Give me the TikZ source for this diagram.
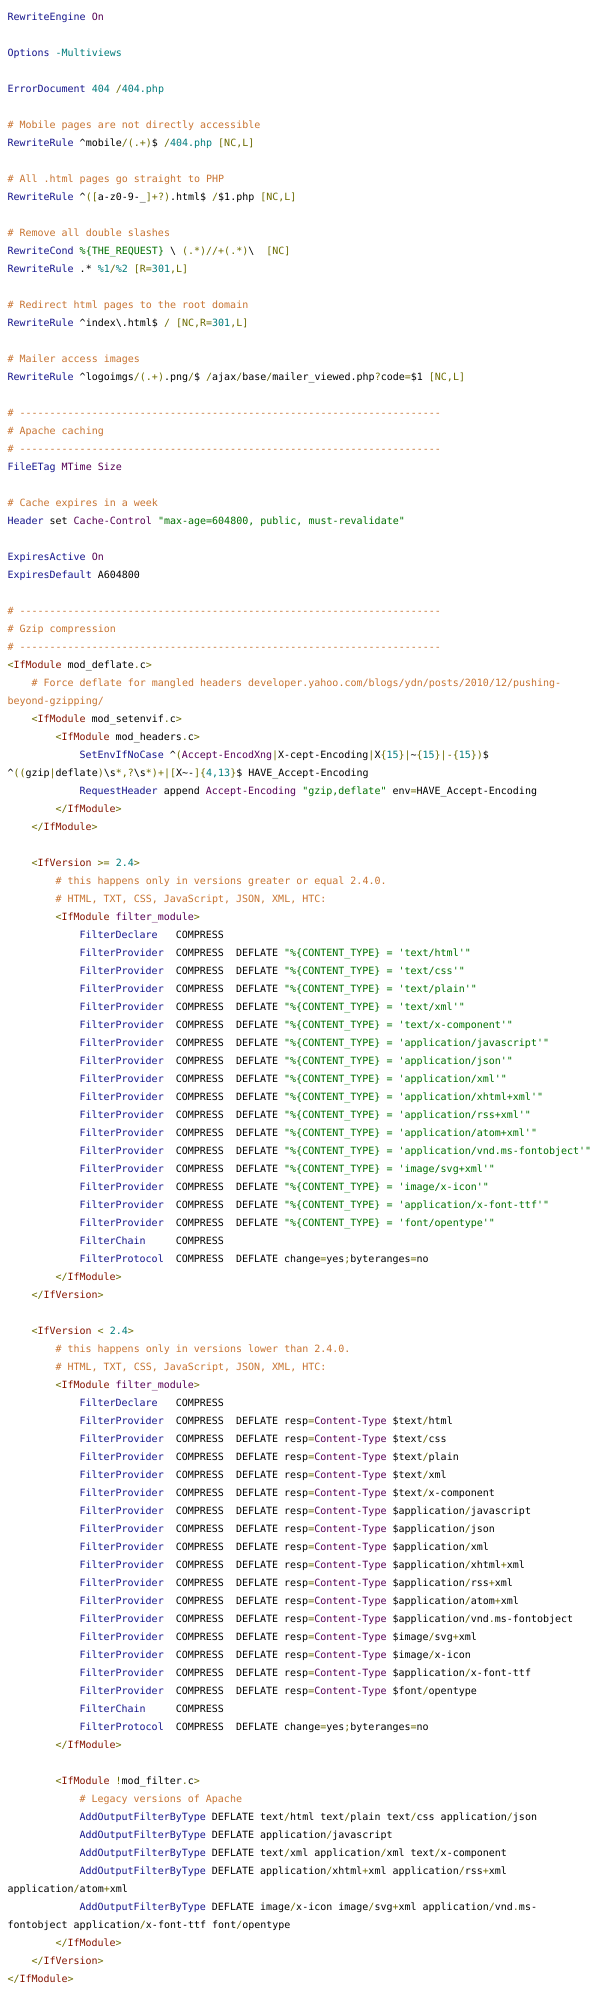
\documentclass[tikz,border=0pt]{standalone}
\usepackage{fontspec}
\setmonofont{DejaVu Sans Mono}
\definecolor{ckw}{HTML}{15158C}
\definecolor{cval}{HTML}{550055}
\definecolor{cnum}{HTML}{007C7C}
\definecolor{ccmt}{HTML}{C87432}
\definecolor{cop}{HTML}{6B6B00}
\definecolor{cstr}{HTML}{007000}
\definecolor{ctag}{HTML}{851500}
\newcommand\hK[1]{\textcolor{ckw}{#1}}
\newcommand\hV[1]{\textcolor{cval}{#1}}
\newcommand\hN[1]{\textcolor{cnum}{#1}}
\newcommand\hC[1]{\textcolor{ccmt}{#1}}
\newcommand\hO[1]{\textcolor{cop}{#1}}
\newcommand\hS[1]{\textcolor{cstr}{#1}}
\newcommand\hT[1]{\textcolor{ctag}{#1}}
\newcommand\dashrule{\hC{\# ----------------------------------------------------------------------}}
\newcommand\codeln[3]{\node[code] (l#1) at ({7.5+6*#2},{-20.5-18*#1}) {#3};}
\newcommand\fprov[1]{\hK{FilterProvider}\ \ COMPRESS\ \ DEFLATE \hS{"\%\{CONTENT\_TYPE\} = '#1'"}}
\newcommand\fresp[2]{\hK{FilterProvider}\ \ COMPRESS\ \ DEFLATE resp\hO{=}\hV{Content-Type} \$#1\hO{/}#2}
\tikzset{code/.style={anchor=base west, inner sep=0pt, outer sep=0pt, text=black,
  font=\ttfamily\fontsize{10}{12}\selectfont\frenchspacing}}
\begin{document}
\begin{tikzpicture}[x=1pt,y=1pt]
\useasboundingbox[fill=white] (0,0) rectangle (600,-1996);
\codeln{0}{0}{\hK{RewriteEngine} \hV{On}}
\codeln{2}{0}{\hK{Options} \hN{-Multiviews}}
\codeln{4}{0}{\hK{ErrorDocument} \hN{404} \hO{/}\hN{404.php}}
\codeln{6}{0}{\hC{\# Mobile pages are not directly accessible}}
\codeln{7}{0}{\hK{RewriteRule} \textasciicircum mobile\hO{/(.+)}\$ \hO{/}\hN{404.php} \hO{[NC,L]}}
\codeln{9}{0}{\hC{\# All .html pages go straight to PHP}}
\codeln{10}{0}{\hK{RewriteRule} \textasciicircum\hO{([}a-z0-9-\_\hO{]+?)}.html\$ \hO{/}\$1.php \hO{[NC,L]}}
\codeln{12}{0}{\hC{\# Remove all double slashes}}
\codeln{13}{0}{\hK{RewriteCond} \hS{\%\{THE\_REQUEST\}} \textbackslash\ \hO{(.*)//+(.*)}\textbackslash\ \ \hO{[NC]}}
\codeln{14}{0}{\hK{RewriteRule} .* \hN{\%1}\hO{/}\hN{\%2} \hO{[R=}\hN{301}\hO{,L]}}
\codeln{16}{0}{\hC{\# Redirect html pages to the root domain}}
\codeln{17}{0}{\hK{RewriteRule} \textasciicircum index\textbackslash.html\$ \hO{/} \hO{[NC,R=}\hN{301}\hO{,L]}}
\codeln{19}{0}{\hC{\# Mailer access images}}
\codeln{20}{0}{\hK{RewriteRule} \textasciicircum logoimgs\hO{/(.+)}.png\hO{/}\$ \hO{/}ajax\hO{/}base\hO{/}mailer\_viewed.php\hO{?}code\hO{=}\$1 \hO{[NC,L]}}
\codeln{22}{0}{\dashrule}
\codeln{23}{0}{\hC{\# Apache caching}}
\codeln{24}{0}{\dashrule}
\codeln{25}{0}{\hK{FileETag} \hV{MTime Size}}
\codeln{27}{0}{\hC{\# Cache expires in a week}}
\codeln{28}{0}{\hK{Header} set \hV{Cache-Control} \hS{"max-age=604800, public, must-revalidate"}}
\codeln{30}{0}{\hK{ExpiresActive} \hV{On}}
\codeln{31}{0}{\hK{ExpiresDefault} A604800}
\codeln{33}{0}{\dashrule}
\codeln{34}{0}{\hC{\# Gzip compression}}
\codeln{35}{0}{\dashrule}
\codeln{36}{0}{\hO{<}\hT{IfModule} mod\_deflate\hO{.}c\hO{>}}
\codeln{37}{4}{\hC{\# Force deflate for mangled headers developer.yahoo.com/blogs/ydn/posts/2010/12/pushing-}}
\codeln{38}{0}{\hC{beyond-gzipping/}}
\codeln{39}{4}{\hO{<}\hT{IfModule} mod\_setenvif\hO{.}c\hO{>}}
\codeln{40}{8}{\hO{<}\hT{IfModule} mod\_headers\hO{.}c\hO{>}}
\codeln{41}{12}{\hK{SetEnvIfNoCase} \textasciicircum\hO{(}\hV{Accept-EncodXng}\hO{|}X-cept-Encoding\hO{|}X\hO{\{}\hN{15}\hO{\}|}\textasciitilde\hO{\{}\hN{15}\hO{\}|-\{}\hN{15}\hO{\})}\$}
\codeln{42}{0}{\textasciicircum\hO{((}gzip\hO{|}deflate\hO{)}\textbackslash s\hO{*,?}\textbackslash s\hO{*)+|[}X\textasciitilde-\hO{]\{}\hN{4,13}\hO{\}}\$ HAVE\_Accept-Encoding}
\codeln{43}{12}{\hK{RequestHeader} append \hV{Accept-Encoding} \hS{"gzip,deflate"} env\hO{=}HAVE\_Accept-Encoding}
\codeln{44}{8}{\hO{</}\hT{IfModule}\hO{>}}
\codeln{45}{4}{\hO{</}\hT{IfModule}\hO{>}}
\codeln{47}{4}{\hO{<}\hT{IfVersion} \hO{>=} \hN{2.4}\hO{>}}
\codeln{48}{8}{\hC{\# this happens only in versions greater or equal 2.4.0.}}
\codeln{49}{8}{\hC{\# HTML, TXT, CSS, JavaScript, JSON, XML, HTC:}}
\codeln{50}{8}{\hO{<}\hT{IfModule} \hV{filter\_module}\hO{>}}
\codeln{51}{12}{\hK{FilterDeclare}\ \ \ COMPRESS}
\codeln{52}{12}{\fprov{text/html}}
\codeln{53}{12}{\fprov{text/css}}
\codeln{54}{12}{\fprov{text/plain}}
\codeln{55}{12}{\fprov{text/xml}}
\codeln{56}{12}{\fprov{text/x-component}}
\codeln{57}{12}{\fprov{application/javascript}}
\codeln{58}{12}{\fprov{application/json}}
\codeln{59}{12}{\fprov{application/xml}}
\codeln{60}{12}{\fprov{application/xhtml+xml}}
\codeln{61}{12}{\fprov{application/rss+xml}}
\codeln{62}{12}{\fprov{application/atom+xml}}
\codeln{63}{12}{\fprov{application/vnd.ms-fontobject}}
\codeln{64}{12}{\fprov{image/svg+xml}}
\codeln{65}{12}{\fprov{image/x-icon}}
\codeln{66}{12}{\fprov{application/x-font-ttf}}
\codeln{67}{12}{\fprov{font/opentype}}
\codeln{68}{12}{\hK{FilterChain}\ \ \ \ \ COMPRESS}
\codeln{69}{12}{\hK{FilterProtocol}\ \ COMPRESS\ \ DEFLATE change\hO{=}yes\hO{;}byteranges\hO{=}no}
\codeln{70}{8}{\hO{</}\hT{IfModule}\hO{>}}
\codeln{71}{4}{\hO{</}\hT{IfVersion}\hO{>}}
\codeln{73}{4}{\hO{<}\hT{IfVersion} \hO{<} \hN{2.4}\hO{>}}
\codeln{74}{8}{\hC{\# this happens only in versions lower than 2.4.0.}}
\codeln{75}{8}{\hC{\# HTML, TXT, CSS, JavaScript, JSON, XML, HTC:}}
\codeln{76}{8}{\hO{<}\hT{IfModule} \hV{filter\_module}\hO{>}}
\codeln{77}{12}{\hK{FilterDeclare}\ \ \ COMPRESS}
\codeln{78}{12}{\fresp{text}{html}}
\codeln{79}{12}{\fresp{text}{css}}
\codeln{80}{12}{\fresp{text}{plain}}
\codeln{81}{12}{\fresp{text}{xml}}
\codeln{82}{12}{\fresp{text}{x-component}}
\codeln{83}{12}{\fresp{application}{javascript}}
\codeln{84}{12}{\fresp{application}{json}}
\codeln{85}{12}{\fresp{application}{xml}}
\codeln{86}{12}{\fresp{application}{xhtml\hO{+}xml}}
\codeln{87}{12}{\fresp{application}{rss\hO{+}xml}}
\codeln{88}{12}{\fresp{application}{atom\hO{+}xml}}
\codeln{89}{12}{\fresp{application}{vnd\hO{.}ms-fontobject}}
\codeln{90}{12}{\fresp{image}{svg\hO{+}xml}}
\codeln{91}{12}{\fresp{image}{x-icon}}
\codeln{92}{12}{\fresp{application}{x-font-ttf}}
\codeln{93}{12}{\fresp{font}{opentype}}
\codeln{94}{12}{\hK{FilterChain}\ \ \ \ \ COMPRESS}
\codeln{95}{12}{\hK{FilterProtocol}\ \ COMPRESS\ \ DEFLATE change\hO{=}yes\hO{;}byteranges\hO{=}no}
\codeln{96}{8}{\hO{</}\hT{IfModule}\hO{>}}
\codeln{98}{8}{\hO{<}\hT{IfModule} \hO{!}mod\_filter\hO{.}c\hO{>}}
\codeln{99}{12}{\hC{\# Legacy versions of Apache}}
\codeln{100}{12}{\hK{AddOutputFilterByType} DEFLATE text\hO{/}html text\hO{/}plain text\hO{/}css application\hO{/}json}
\codeln{101}{12}{\hK{AddOutputFilterByType} DEFLATE application\hO{/}javascript}
\codeln{102}{12}{\hK{AddOutputFilterByType} DEFLATE text\hO{/}xml application\hO{/}xml text\hO{/}x-component}
\codeln{103}{12}{\hK{AddOutputFilterByType} DEFLATE application\hO{/}xhtml\hO{+}xml application\hO{/}rss\hO{+}xml}
\codeln{104}{0}{application\hO{/}atom\hO{+}xml}
\codeln{105}{12}{\hK{AddOutputFilterByType} DEFLATE image\hO{/}x-icon image\hO{/}svg\hO{+}xml application\hO{/}vnd\hO{.}ms-}
\codeln{106}{0}{fontobject application\hO{/}x-font-ttf font\hO{/}opentype}
\codeln{107}{8}{\hO{</}\hT{IfModule}\hO{>}}
\codeln{108}{4}{\hO{</}\hT{IfVersion}\hO{>}}
\codeln{109}{0}{\hO{</}\hT{IfModule}\hO{>}}
\end{tikzpicture}
\end{document}
